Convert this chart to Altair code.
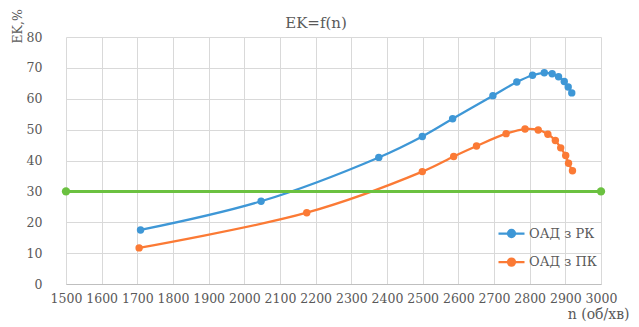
import altair as alt
import pandas as pd

# Series names
series_names = ["ОАД з РК", "ОАД з ПК"]
series_colors = ["#3E97D6", "#FB7A35"]

# ОАД з РК: speed n (rpm) and efficiency EK (%)
rk_n = [1709, 2047, 2377, 2499, 2584, 2697, 2764, 2808, 2841, 2863, 2881, 2897, 2908, 2918]
rk_ek = [17.5, 26.8, 41.0, 47.8, 53.5, 61.0, 65.4, 67.6, 68.4, 68.1, 67.1, 65.6, 63.8, 61.9]

# ОАД з ПК
pk_n = [1705, 2175, 2499, 2587, 2651, 2734, 2787, 2824, 2851, 2872, 2887, 2901, 2909, 2920]
pk_ek = [11.7, 23.1, 36.4, 41.3, 44.7, 48.7, 50.2, 49.9, 48.5, 46.5, 44.1, 41.6, 39.1, 36.7]

# Horizontal reference level
limit_n = [1500, 3000]
limit_ek = [30, 30]

x_ticks = list(range(1500, 3001, 100))
y_ticks = list(range(0, 81, 10))
chart_title = "EK=f(n)"

FONT = "DejaVu Serif"
TEXT = "#595959"
GRID = "#D9D9D9"
GREEN = "#6BC140"

df = pd.DataFrame({
    "n": rk_n + pk_n,
    "ek": rk_ek + pk_ek,
    "series": [series_names[0]] * len(rk_n) + [series_names[1]] * len(pk_n),
})
limit_df = pd.DataFrame({"n": limit_n, "ek": limit_ek})

x_enc = alt.X(
    "n:Q",
    scale=alt.Scale(domain=[1500, 3000], nice=False, zero=False),
    axis=alt.Axis(
        values=x_ticks, format="d", title="n (об/хв)",
        titleAnchor="end", titleAlign="right", titleBaseline="middle",
        titleX=563, titleY=30, titleFontWeight="normal", titleFontSize=14,
        titleFont=FONT, titleColor=TEXT,
        labelFont=FONT, labelFontSize=12.5, labelColor=TEXT,
        labelPadding=8, tickSize=0, domainColor="#BFBFBF",
        labelOverlap=False, labelBound=False, labelFlush=False,
    ),
)
y_enc = alt.Y(
    "ek:Q",
    scale=alt.Scale(domain=[0, 80], nice=False),
    axis=alt.Axis(
        values=y_ticks, title="EK,%",
        titleAngle=270, titleAlign="left", titleBaseline="middle",
        titleX=-49, titleY=6, titleFontWeight="normal", titleFontSize=12.5,
        titleFont=FONT, titleColor=TEXT,
        labelFont=FONT, labelFontSize=12.5, labelColor=TEXT,
        labelPadding=24, tickSize=0, domain=False,
        labelOverlap=False, labelBound=False, labelFlush=False,
    ),
)

legend = alt.Legend(
    title=None, orient="none", legendX=431, legendY=182,
    symbolType="M-1,0L1,0M0.27,0A0.27,0.27,0,1,1,-0.27,0A0.27,0.27,0,1,1,0.27,0",
    symbolSize=676, symbolStrokeWidth=2.25, symbolOpacity=1,
    labelFont=FONT, labelFontSize=13, labelColor=TEXT, labelOffset=3,
    rowPadding=5.6, padding=0,
)
color_enc = alt.Color(
    "series:N",
    scale=alt.Scale(domain=series_names, range=series_colors),
    legend=legend,
)

lines = alt.Chart(df).mark_line(interpolate="catmull-rom", strokeWidth=2.25).encode(
    x=x_enc, y=y_enc, color=color_enc, detail="series:N"
)
points = alt.Chart(df).mark_point(filled=True, size=55, opacity=1).encode(
    x=x_enc, y=y_enc, color=color_enc
)
limit_line = alt.Chart(limit_df).mark_line(color=GREEN, strokeWidth=3).encode(
    x=x_enc, y=y_enc
)
limit_points = alt.Chart(limit_df).mark_point(filled=True, size=70, color=GREEN, opacity=1).encode(
    x=x_enc, y=y_enc
)
# Chart heading, placed above the plot area
heading = alt.Chart(pd.DataFrame({"t": [chart_title]})).mark_text(
    font=FONT, fontSize=15, color=TEXT, align="center", baseline="alphabetic"
).encode(text="t:N", x=alt.value(250), y=alt.value(-9.5))

chart = alt.layer(lines, points, limit_line, limit_points, heading).properties(
    width=535,
    height=247,
    autosize=alt.AutoSizeParams(type="none"),
    padding={"left": 66, "top": 37, "right": 38, "bottom": 43},
).configure_view(stroke=None).configure_axis(
    gridColor=GRID, gridWidth=1, grid=True,
)

chart.save("out.html", embed_options={"renderer": "svg", "actions": False})
